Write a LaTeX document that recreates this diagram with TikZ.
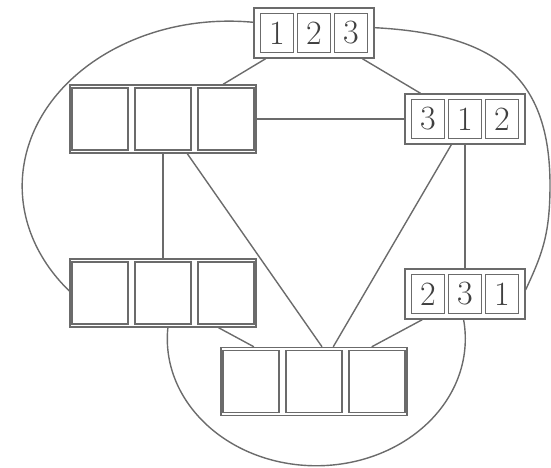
\documentclass[tikz,border=0pt]{standalone}
\usepackage{fontspec}
\begin{document}
\begin{tikzpicture}[x=1pt,y=1pt]
\tikzset{
  ln/.style={draw=black!58, line width=1.4pt},
  outerbox/.style={ln, minimum width=120pt, minimum height=50pt, inner sep=0pt},
  numcell/.style={ln, minimum width=33pt, minimum height=39pt, inner sep=0pt,
    font=\fontsize{34}{34}\selectfont, text=black!75},
  bigbox/.style={ln, minimum width=186pt, minimum height=68pt, inner sep=0pt},
  bigcell/.style={ln, minimum width=56pt, minimum height=62pt, inner sep=0pt},
}
\useasboundingbox (0,0) rectangle (551,468);

% numbered boxes
\node[outerbox] (A) at (314,435) {};
\node[numcell] (A1) at ([xshift=-37pt]A.center) {1};
\node[numcell] (A2) at (A.center) {2};
\node[numcell] (A3) at ([xshift=37pt]A.center) {3};

\node[outerbox] (C) at (465,349) {};
\node[numcell] (C1) at ([xshift=-37pt]C.center) {3};
\node[numcell] (C2) at (C.center) {1};
\node[numcell] (C3) at ([xshift=37pt]C.center) {2};

\node[outerbox] (E) at (465,174) {};
\node[numcell] (E1) at ([xshift=-37pt]E.center) {2};
\node[numcell] (E2) at (E.center) {3};
\node[numcell] (E3) at ([xshift=37pt]E.center) {1};

% empty boxes
\node[bigbox] (B) at (163,349) {};
\node[bigcell] (B1) at ([xshift=-63pt]B.center) {};
\node[bigcell] (B2) at (B.center) {};
\node[bigcell] (B3) at ([xshift=63pt]B.center) {};

\node[bigbox] (D) at (163,175) {};
\node[bigcell] (D1) at ([xshift=-63pt]D.center) {};
\node[bigcell] (D2) at (D.center) {};
\node[bigcell] (D3) at ([xshift=63pt]D.center) {};

\node[bigbox] (F) at (314,86.5) {};
\node[bigcell] (F1) at ([xshift=-63pt]F.center) {};
\node[bigcell] (F2) at (F.center) {};
\node[bigcell] (F3) at ([xshift=63pt]F.center) {};

% straight connectors
\draw[ln] (A.208) -- (B.30);
\draw[ln] (A.332) -- (C.150);
\draw[ln] (B.east) -- (C.west);
\draw[ln] (B.south) -- (D.north);
\draw[ln] (B.305) -- (F.77);
\draw[ln] (C.242) -- (F.61);
\draw[ln] (C.south) -- (E.north);
\draw[ln] (D.328) -- (F.150);
\draw[ln] (E.211) -- (F.31);

% curved connectors
\draw[ln] (A.170) arc[start angle=83.3, end angle=219.8, x radius=207pt, y radius=165pt];
\coordinate (R) at (550,283);
\draw[ln] (A.5) .. controls (494,434) and (550,393) .. (R)
  .. controls (550,233) and (542,213.6) .. (E.4);
\draw[ln] (D.278) arc[start angle=175, end angle=368.6, x radius=149pt, y radius=127pt];
\end{tikzpicture}
\end{document}
